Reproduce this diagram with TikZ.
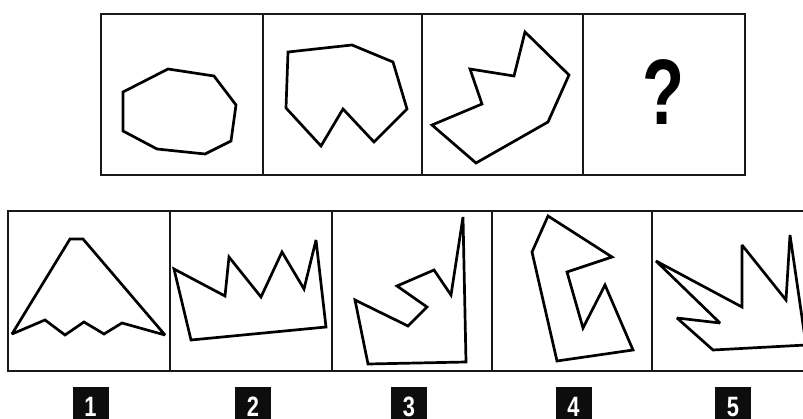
\documentclass[tikz,border=0pt]{standalone}
\usepackage{fontspec}
\setmainfont{Liberation Sans}
\begin{document}
\begin{tikzpicture}[x=1pt,y=-1pt,
  frame/.style={line width=2.3pt,draw=black!90},
  fig/.style={line width=2.7pt,line join=miter,miter limit=3,draw=black},
  numlabel/.style={fill=black!95,text=white,minimum width=36pt,minimum height=36pt,inner sep=0pt,anchor=north,font=\bfseries\fontsize{28}{28}\selectfont},
  numtext/.style={text=white,inner sep=0pt,font=\bfseries\fontsize{28}{28}\selectfont}]
\useasboundingbox (0,0) rectangle (803,419);
\clip (0,0) rectangle (803,419);
% top frame
\draw[frame] (101,14) rectangle (745,175);
\draw[frame] (263,14) -- (263,175);
\draw[frame] (422,14) -- (422,175);
\draw[frame] (583,14) -- (583,175);
% top shapes
\draw[fig] (123,92) -- (168,69) -- (214,76) -- (236,105) -- (231,141) -- (205,154) -- (157,149) -- (123,131) -- cycle;
\draw[fig] (288,52) -- (352,45) -- (393,62) -- (407,109) -- (374,142) -- (343,109) -- (321,146) -- (286,108) -- cycle;
\draw[fig] (525,32) -- (569,75) -- (548,122) -- (476,163) -- (432,125) -- (482,104) -- (470,69) -- (514,76) -- cycle;
\node (q) at (664,92) {\fontsize{93}{93}\selectfont\bfseries\scalebox{0.74}[1]{?}};
% bottom frame
\draw[frame] (8,211) rectangle (815,371);
\draw[frame] (170,211) -- (170,371);
\draw[frame] (332,211) -- (332,371);
\draw[frame] (492,211) -- (492,371);
\draw[frame] (652,211) -- (652,371);
% bottom shapes
\draw[fig] (12,334) -- (70,239) -- (83,239) -- (165,335) -- (122,323) -- (104,334) -- (84,322) -- (65,335) -- (45,320) -- cycle;
\draw[fig] (174,269) -- (225,296) -- (229,257) -- (261,297) -- (282,252) -- (304,289) -- (316,240) -- (326,327) -- (191,340) -- cycle;
\draw[fig] (355,300) -- (408,326) -- (427,307) -- (397,286) -- (434,270) -- (451,295) -- (463,217) -- (466,362) -- (368,364) -- cycle;
\draw[fig] (548,216) -- (612,257) -- (567,272) -- (583,328) -- (605,285) -- (633,350) -- (557,361) -- (532,252) -- cycle;
\draw[fig] (656,261) -- (742,307) -- (742,245) -- (786,300) -- (790,235) -- (806,345) -- (713,350) -- (677,318) -- (720,323) -- cycle;
% labels
\node[numlabel] (n1) at (90.5,387) {};
\node[numlabel] (n2) at (253,387) {};
\node[numlabel] (n3) at (409,387) {};
\node[numlabel] (n4) at (573.5,387) {};
\node[numlabel] (n5) at (733,387) {};
\node[numtext] at ([yshift=-2pt]n1) {\scalebox{0.78}[1]{1}};
\node[numtext] at ([yshift=-2pt]n2) {\scalebox{0.78}[1]{2}};
\node[numtext] at ([yshift=-2pt]n3) {\scalebox{0.78}[1]{3}};
\node[numtext] at ([yshift=-2pt]n4) {\scalebox{0.78}[1]{4}};
\node[numtext] at ([yshift=-2pt]n5) {\scalebox{0.78}[1]{5}};
\end{tikzpicture}
\end{document}
